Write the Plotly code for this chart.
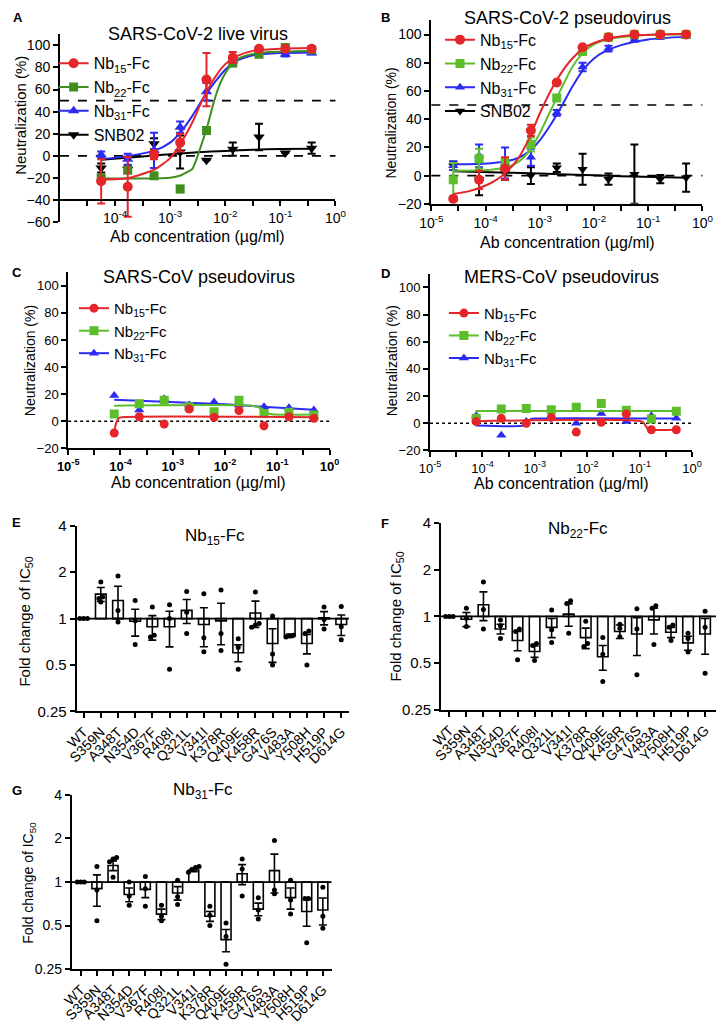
import numpy as np
import plotly.graph_objects as go

FONT = "Liberation Sans, Arial, sans-serif"
RED = "#E4252A"
GREEN_A = "#3F8E1F"
GREEN = "#5DBE2C"
BLUE = "#2B2BF4"
BLACK = "#000000"

W, H = 727, 1024

# --- A: SARS-CoV-2 live virus (mean, error) ---
a_conc = [5.6e-5, 1.7e-4, 5.1e-4, 1.52e-3, 4.57e-3, 1.37e-2, 4.1e-2, 0.123, 0.37]
a_nb15 = [-23, -28, 1, 12, 69, 89, 97, 97, 97]
a_nb15_err = [20, 27, 4, 8, 24, 5, 1, 1, 1]
a_nb22 = [-20, -13, -18, -30, 23, 84, 92, 98, 96]
a_nb22_err = [3, 2, 1, 3, 2, 3, 1, 1, 1]
a_nb31 = [1, -3, 5, 26, 58, 86, 94, 92, 93]
a_nb31_err = [3, 5, 16, 5, 8, 4, 2, 2, 1]
a_snb = [-11, -12, 11, 3.5, -4, 6, 17, 2.5, 7]
a_snb_err = [4, 3, 5, 15, 0, 6, 12, 0, 5]

# fitted curves (log10 conc, %)
a_fit15_lx = [-4.25, -3.75, -3.27, -3.0, -2.8, -2.6, -2.4, -2.2, -2.0, -1.8, -1.5, -1.0, -0.43]
a_fit15_y = [-21.5, -20, -12, -2, 12, 30, 52, 70, 83, 90, 95, 97, 97.5]
a_fit22_lx = [-4.25, -3.5, -3.0, -2.8, -2.7, -2.6, -2.5, -2.42, -2.34, -2.27, -2.2, -2.12, -2.03, -1.93, -1.82, -1.6, -1.2, -0.43]
a_fit22_y = [-20.5, -20.5, -19.8, -17.5, -15, -12, 0, 12, 24, 37, 50, 62, 72, 80, 86, 91, 94, 95]
a_fit31_lx = [-4.25, -3.75, -3.27, -3.0, -2.8, -2.6, -2.4, -2.2, -2.0, -1.8, -1.5, -1.0, -0.43]
a_fit31_y = [-3, 0, 5, 12, 22, 36, 52, 66, 78, 86, 91, 93, 93.5]
a_fitsnb_lx = [-4.25, -3.5, -3.0, -2.5, -2.0, -1.5, -1.0, -0.43]
a_fitsnb_y = [-3.5, -0.5, 1.5, 3.2, 4.5, 5.5, 6.2, 6.5]

# --- B: SARS-CoV-2 pseudovirus ---
b_conc = [2.54e-5, 7.6e-5, 2.29e-4, 6.86e-4, 2.06e-3, 6.17e-3, 1.85e-2, 5.56e-2, 0.167, 0.5]
b_nb15 = [-16.5, -3, 5, 32, 66, 91, 98, 100, 100, 100]
b_nb15_err = [1, 6.5, 8, 4, 1, 1, 1, 0.5, 0.5, 0.5]
b_nb22 = [-3, 12, 9, 22, 55, 88, 98, 100, 100, 100]
b_nb22_err = [12, 7, 3, 5, 2, 2, 1, 0.5, 0.5, 0.5]
b_nb31 = [7, 14, 9, 13, 44.5, 77, 90, 96, 98, 98.5]
b_nb31_err = [3, 8, 11, 6, 2, 3, 2, 1, 1, 1]
b_snb = [7, -2.5, 2, 0, 5.5, 4.5, -2.5, 1, -2.5, -1.5]
b_snb_err = [3, 11.5, 5, 6, 3, 11, 4, 21, 3, 10]

b_fit15_lx = [-4.6, -4.3, -4.0, -3.8, -3.6, -3.4, -3.2, -3.0, -2.8, -2.6, -2.4, -2.2, -2.0, -1.7, -1.3, -0.8, -0.28]
b_fit15_y = [-13, -11, -7, -3, 3, 12, 26, 44, 60, 73, 83, 90, 94, 97.5, 99.5, 100, 100.5]
b_fit22_lx = [-4.6, -4.2, -3.9, -3.64, -3.4, -3.2, -3.0, -2.8, -2.6, -2.4, -2.2, -2.0, -1.7, -1.3, -0.8, -0.28]
b_fit22_y = [3.5, 3.6, 4.2, 5.5, 9.5, 17, 30, 46, 62, 77, 87, 93, 97, 99, 100, 100]
b_fit31_lx = [-4.6, -4.2, -3.9, -3.64, -3.4, -3.2, -3.0, -2.8, -2.6, -2.4, -2.2, -2.0, -1.8, -1.5, -1.0, -0.28]
b_fit31_y = [8, 8.2, 8.8, 10, 12.5, 17, 25, 36, 49, 63, 75, 83, 88, 92.5, 96.5, 98.5]
b_fitsnb_lx = [-4.6, -3.5, -2.5, -1.5, -0.28]
b_fitsnb_y = [3, 2, 0.8, -0.4, -1.5]

# --- C: SARS-CoV pseudovirus ---
c_conc = [7.6e-5, 2.29e-4, 6.86e-4, 2.06e-3, 6.17e-3, 1.85e-2, 5.56e-2, 0.167, 0.5]
c_nb15 = [-8.6, 3.4, -2, 9, 3, 8, -3.3, 3.4, 2.2]
c_nb22 = [5.4, 13, 15.5, 10.7, 7, 15.5, 5.8, 6.6, 4.6]
c_nb31 = [19, 8.3, 16.7, 12, 14.3, 12, 10.7, 10, 8.3]
c_fit15_lx = [-4.12, -4.10, -4.07, -4.03, -3.98, -0.31]
c_fit15_y = [-8.6, -4, 0, 2.3, 3, 3]
c_fit22_lx = [-4.12, -1.45, -1.3, -1.2, -1.1, -0.31]
c_fit22_y = [11.5, 11.3, 9.5, 6.5, 5.2, 5]
c_fit31_lx = [-4.12, -2.0, -0.31]
c_fit31_y = [16, 12.5, 8.5]

# --- D: MERS-CoV pseudovirus ---
d_conc = [7.6e-5, 2.29e-4, 6.86e-4, 2.06e-3, 6.17e-3, 1.85e-2, 5.56e-2, 0.167, 0.5]
d_nb15 = [1.2, 3.6, 0, 4.3, -6.5, 0.7, 6.7, -4.8, -4.8]
d_nb22 = [3.6, 10.4, 10.8, 10, 11.8, 14.5, 9.6, 3.1, 8.9]
d_nb31 = [5.5, -8.9, 1.2, 3.6, 0, 7.2, 1.2, 5.5, 3.6]
d_fit15_lx = [-4.13, -0.95, -0.9, -0.85, -0.8, -0.31]
d_fit15_y = [1.5, 1.2, -1, -4, -4.8, -4.8]
d_fit22_lx = [-4.13, -0.31]
d_fit22_y = [9, 9]
d_fit31_lx = [-4.13, -3.2, -3.13, -3.07, -3.0, -0.31]
d_fit31_y = [-1.6, -1.6, 1, 3.2, 3.5, 3.5]

# --- E/F/G: fold change of IC50 ---
mutants = ["WT", "S359N", "A348T", "N354D", "V367F", "R408I", "Q321L", "V341I",
           "K378R", "Q409E", "K458R", "G476S", "V483A", "Y508H", "H519P", "D614G"]

e_mean = [1, 1.44, 1.31, 0.96, 0.885, 0.885, 1.13, 0.916, 0.966, 0.60, 1.087, 0.69, 0.775, 0.69, 1.01, 0.916]
e_sem = [0, 0.15, 0.31, 0.19, 0.16, 0.23, 0.2, 0.26, 0.29, 0.075, 0.21, 0.17, 0.02, 0.1, 0.1, 0.14]
e_dots = [[1, 1, 1], [1.73, 1.38, 1.35, 1.28], [1.89, 1.13, 0.95], [1.31, 0.97, 0.68],
          [1.19, 0.78, 0.76], [1.23, 1.0, 0.47], [1.5, 1.1, 0.80], [1.45, 0.75, 0.61],
          [1.53, 0.80, 0.62], [0.74, 0.65, 0.47], [1.49, 0.93, 0.91, 0.88], [1.04, 0.59, 0.50],
          [0.78, 0.77, 0.76], [0.83, 0.80, 0.50], [1.19, 0.985, 0.855], [1.2, 0.885, 0.73]]

f_mean = [1, 0.96, 1.19, 0.83, 0.70, 0.594, 0.85, 1.035, 0.73, 0.55, 0.80, 0.77, 0.95, 0.79, 0.675, 0.77]
f_sem = [0, 0.1, 0.25, 0.06, 0.1, 0.05, 0.12, 0.17, 0.11, 0.1, 0.08, 0.21, 0.18, 0.06, 0.07, 0.2]
f_dots = [[1, 1, 1], [1.13, 0.975, 0.86], [1.67, 1.11, 0.83], [0.95, 0.87, 0.72],
          [0.83, 0.80, 0.525], [0.67, 0.65, 0.52], [1.1, 0.82, 0.68], [1.26, 1.21, 0.78],
          [0.93, 0.67, 0.64], [0.73, 0.57, 0.38], [0.89, 0.84, 0.74], [1.12, 0.83, 0.42],
          [1.17, 1.13, 0.66], [0.88, 0.85, 0.70], [0.78, 0.72, 0.59], [1.08, 0.85, 0.43]]

g_mean = [1, 0.90, 1.30, 0.82, 0.89, 0.60, 0.84, 1.21, 0.58, 0.40, 1.14, 0.65, 1.20, 0.78, 0.625, 0.64]
g_sem = [0, 0.22, 0.1, 0.09, 0.11, 0.05, 0.09, 0.03, 0.045, 0.07, 0.18, 0.065, 0.36, 0.13, 0.13, 0.135]
g_dots = [[1, 1, 1], [1.28, 0.88, 0.54], [1.48, 1.44, 1.38, 1.08], [1.0, 0.8, 0.69],
          [1.09, 0.9, 0.68], [0.69, 0.58, 0.54], [1.03, 0.79, 0.70], [1.28, 1.26, 1.22, 1.17],
          [0.68, 0.59, 0.50], [0.52, 0.42, 0.27], [1.44, 1.23, 0.80], [0.78, 0.64, 0.555],
          [1.94, 0.88, 0.83], [1.03, 0.75, 0.60], [0.77, 0.77, 0.38], [0.92, 0.58, 0.48]]


def pxx(px):
    return px / W


def pxy(py):
    return 1 - py / H


fig = go.Figure()
annotations = []
shapes = []


def ann(text, px, py, size, angle=0, bold=False, xanchor="center"):
    if bold:
        text = "<b>" + text + "</b>"
    annotations.append(dict(text=text, x=pxx(px), y=pxy(py), xref="paper", yref="paper",
                            showarrow=False, textangle=angle, xanchor=xanchor, yanchor="middle",
                            font=dict(family=FONT, size=size, color="black")))


def axis(size=14, **kw):
    d = dict(showline=True, linecolor="black", linewidth=1.8, ticks="outside", tickwidth=1.5,
             ticklen=5, tickcolor="black", showgrid=False, zeroline=False,
             tickfont=dict(family=FONT, size=size, color="black"))
    d.update(kw)
    return d


def log_axis(first=-5, bold=False, size=14, **kw):
    vals = [10.0 ** k for k in range(first, 1)]
    text = ["10<sup>%d</sup>" % k for k in range(first, 1)]
    if bold:
        text = ["<b>" + t + "</b>" for t in text]
    minor = dict(tickmode="array", tickvals=[10 ** (k + 0.5) for k in range(-5, 0)],
                 ticks="outside", ticklen=5, tickwidth=1.5, tickcolor="black", showgrid=False)
    return axis(size=size, type="log", range=[-5, 0], tickmode="array", tickvals=vals,
                ticktext=text, minor=minor, **kw)


def curve_series(n, conc, y, err, lx, fy, color, symbol, size, legend, name, rank, lw=2):
    xa, ya = "x%d" % n, "y%d" % n
    fig.add_trace(go.Scatter(x=[10 ** v for v in lx], y=fy, mode="lines",
                             line=dict(color=color, width=lw, shape="spline", smoothing=0.6),
                             xaxis=xa, yaxis=ya, showlegend=False, hoverinfo="skip"))
    ey = None
    if err is not None:
        ey = dict(type="data", array=err, color=color, thickness=2, width=4)
    fig.add_trace(go.Scatter(x=conc, y=y, mode="markers", error_y=ey,
                             marker=dict(color=color, symbol=symbol, size=size),
                             xaxis=xa, yaxis=ya, showlegend=False))
    fig.add_trace(go.Scatter(x=[None], y=[None], mode="lines+markers", name=name,
                             line=dict(color=color, width=lw), marker=dict(color=color, symbol=symbol, size=size),
                             xaxis=xa, yaxis=ya, legend=legend, legendgroup=legend + name, legendrank=rank))


# ---------- panel A ----------
curve_series(1, a_conc, a_snb, a_snb_err, a_fitsnb_lx, a_fitsnb_y, BLACK, "triangle-down", 10, "legend", "SNB02", 4)
curve_series(1, a_conc, a_nb31, a_nb31_err, a_fit31_lx, a_fit31_y, BLUE, "triangle-up", 10, "legend", "Nb<sub>31</sub>-Fc", 3)
curve_series(1, a_conc, a_nb22, a_nb22_err, a_fit22_lx, a_fit22_y, GREEN_A, "square", 9, "legend", "Nb<sub>22</sub>-Fc", 2)
curve_series(1, a_conc, a_nb15, a_nb15_err, a_fit15_lx, a_fit15_y, RED, "circle", 10, "legend", "Nb<sub>15</sub>-Fc", 1)

# ---------- panel B ----------
curve_series(2, b_conc, b_snb, b_snb_err, b_fitsnb_lx, b_fitsnb_y, BLACK, "triangle-down", 9, "legend2", "SNB02", 4)
curve_series(2, b_conc, b_nb31, b_nb31_err, b_fit31_lx, b_fit31_y, BLUE, "triangle-up", 9, "legend2", "Nb<sub>31</sub>-Fc", 3)
curve_series(2, b_conc, b_nb22, b_nb22_err, b_fit22_lx, b_fit22_y, GREEN, "square", 9, "legend2", "Nb<sub>22</sub>-Fc", 2)
curve_series(2, b_conc, b_nb15, b_nb15_err, b_fit15_lx, b_fit15_y, RED, "circle", 10, "legend2", "Nb<sub>15</sub>-Fc", 1)

# ---------- panels C, D ----------
for n, conc, s15, s22, s31, f15, f22, f31, leg in [
        (3, c_conc, c_nb15, c_nb22, c_nb31, (c_fit15_lx, c_fit15_y), (c_fit22_lx, c_fit22_y), (c_fit31_lx, c_fit31_y), "legend3"),
        (4, d_conc, d_nb15, d_nb22, d_nb31, (d_fit15_lx, d_fit15_y), (d_fit22_lx, d_fit22_y), (d_fit31_lx, d_fit31_y), "legend4")]:
    curve_series(n, conc, s31, None, f31[0], f31[1], BLUE, "triangle-up", 9, leg, "Nb<sub>31</sub>-Fc", 3)
    curve_series(n, conc, s22, None, f22[0], f22[1], GREEN, "square", 9, leg, "Nb<sub>22</sub>-Fc", 2)
    curve_series(n, conc, s15, None, f15[0], f15[1], RED, "circle", 9, leg, "Nb<sub>15</sub>-Fc", 1)


def jitter(vals, step=0.22, tol=0.07):
    lv = np.log2(vals)
    order = np.argsort(lv)
    offs = np.zeros(len(vals))
    groups, cur = [], [order[0]]
    for i in order[1:]:
        if lv[i] - lv[cur[-1]] < tol:
            cur.append(i)
        else:
            groups.append(cur)
            cur = [i]
    groups.append(cur)
    for g in groups:
        for j, i in enumerate(g):
            offs[i] = (j - (len(g) - 1) / 2) * step
    return offs


def bar_panel(n, means, sems, dots):
    xa, ya = "x%d" % n, "y%d" % n
    m = np.array(means, dtype=float)
    s = np.array(sems, dtype=float)
    up = np.log2(m + s) - np.log2(m)
    dn = np.log2(m) - np.log2(m - s)
    fig.add_trace(go.Bar(x=list(range(len(mutants))), y=np.log2(m), width=0.62,
                         marker=dict(color="white", line=dict(color="black", width=1.6)),
                         error_y=dict(type="data", symmetric=False, array=up, arrayminus=dn,
                                      color="black", thickness=1.6, width=4),
                         xaxis=xa, yaxis=ya, showlegend=False))
    dx, dy = [], []
    for i, d in enumerate(dots):
        for v, o in zip(d, jitter(d)):
            dx.append(i + o)
            dy.append(np.log2(v))
    fig.add_trace(go.Scatter(x=dx, y=dy, mode="markers", marker=dict(color="black", size=5),
                             xaxis=xa, yaxis=ya, showlegend=False))
    shapes.append(dict(type="line", xref="%s domain" % xa, yref=ya, x0=0, x1=1, y0=0, y1=0,
                       line=dict(color="black", width=1.8), layer="above"))


bar_panel(5, e_mean, e_sem, e_dots)
bar_panel(6, f_mean, f_sem, f_dots)
bar_panel(7, g_mean, g_sem, g_dots)

# ---------- axes ----------
fig.update_layout(
    xaxis=log_axis(first=-4, domain=[pxx(49.5), pxx(334)], anchor="free", position=pxy(194.5)),
    yaxis=axis(domain=[pxy(217), pxy(25.75)], range=[-60, 110], tickvals=list(range(-60, 101, 20)), anchor="x"),
    xaxis2=log_axis(domain=[pxx(433), pxx(713)], anchor="y2"),
    yaxis2=axis(domain=[pxy(198.3), pxy(11.6)], range=[-20, 110], tickvals=list(range(-20, 101, 20)), anchor="x2"),
    xaxis3=log_axis(bold=True, size=13, domain=[pxx(58), pxx(328)], anchor="y3"),
    yaxis3=axis(size=13, domain=[pxy(447.3), pxy(267.9)], range=[-20, 110], tickvals=list(range(-20, 101, 20)), anchor="x3"),
    xaxis4=log_axis(size=13, domain=[pxx(431.7), pxx(702.3)], anchor="y4"),
    yaxis4=axis(size=13, domain=[pxy(449.3), pxy(269.5)], range=[-20, 110], tickvals=list(range(-20, 101, 20)), anchor="x4"),
)
ylog2 = dict(range=[-2, 2], tickvals=[-2, -1, 0, 1, 2], ticktext=["0.25", "0.5", "1", "2", "4"])
xcat = dict(tickvals=list(range(len(mutants))), ticktext=mutants, tickangle=-45)
fig.update_layout(
    xaxis5=axis(domain=[pxx(66.7), pxx(348)], range=[-0.41, 15.45], anchor="y5", **xcat),
    yaxis5=axis(size=15, domain=[pxy(715), pxy(526)], anchor="x5", **ylog2),
    xaxis6=axis(domain=[pxx(443), pxx(727)], range=[-0.49, 15.64], anchor="y6", **xcat),
    yaxis6=axis(size=15, domain=[pxy(713.3), pxy(523.3)], anchor="x6", **ylog2),
    xaxis7=axis(domain=[pxx(61.7), pxx(330)], range=[-0.56, 15.54], anchor="y7", **xcat),
    yaxis7=axis(size=14, domain=[pxy(977.3), pxy(800)], anchor="x7", **ylog2),
)

# reference lines
for xa, ya, yv, dash in [("x", "y", 50, "dash"), ("x", "y", 0, "dash"),
                         ("x2", "y2", 50, "dash"), ("x2", "y2", 0, "dash"),
                         ("x3", "y3", 0, "dot"), ("x4", "y4", 0, "dot")]:
    shapes.append(dict(type="line", xref="%s domain" % xa, yref=ya, x0=0, x1=1, y0=yv, y1=yv,
                       line=dict(color="black", width=1.6, dash=dash), layer="below"))

# ---------- text ----------
ann("A", 6, 9, 13, bold=True)
ann("B", 386, 9, 13, bold=True)
ann("C", 5, 268, 13, bold=True)
ann("D", 386, 269, 13, bold=True)
ann("E", 5, 523, 13, bold=True)
ann("F", 385, 524, 13, bold=True)
ann("G", 5, 795, 13, bold=True)

ann("SARS-CoV-2 live virus", 192, 25, 18)
ann("SARS-CoV-2 pseudovirus", 574, 9, 18)
ann("SARS-CoV pseudovirus", 193, 273, 18)
ann("MERS-CoV pseudovirus", 567, 273, 18)
ann("Nb<sub>15</sub>-Fc", 210, 537, 17)
ann("Nb<sub>22</sub>-Fc", 584, 530, 17)
ann("Nb<sub>31</sub>-Fc", 197, 796, 17)

ann("Neutralization (%)", 8, 108, 15, angle=-90)
ann("Neutralization (%)", 391, 116, 14, angle=-90)
ann("Neutralization (%)", 18, 358, 14, angle=-90)
ann("Neutralization (%)", 392, 358, 14, angle=-90)
ann("Ab concentration (\u00b5g/ml)", 192, 232, 16)
ann("Ab concentration (\u00b5g/ml)", 574, 238, 16)
ann("Ab concentration (\u00b5g/ml)", 193, 482, 16)
ann("Ab concentration (\u00b5g/ml)", 567, 483, 16)
ann("Fold change of IC<sub>50</sub>", 13, 624, 15, angle=-90)
ann("Fold change of IC<sub>50</sub>", 397, 618, 15, angle=-90)
ann("Fold change of IC<sub>50</sub>", 18, 889, 14, angle=-90)

leg = dict(bgcolor="rgba(0,0,0,0)", xanchor="left", yanchor="top", tracegroupgap=3,
           traceorder="normal", itemclick=False)
fig.update_layout(
    legend=dict(leg, x=pxx(43), y=pxy(38), font=dict(family=FONT, size=16)),
    legend2=dict(leg, x=pxx(442), y=pxy(14), font=dict(family=FONT, size=16)),
    legend3=dict(leg, x=pxx(64), y=pxy(288), font=dict(family=FONT, size=15)),
    legend4=dict(leg, x=pxx(446), y=pxy(293), font=dict(family=FONT, size=15)),
)

fig.update_layout(width=W, height=H, margin=dict(l=0, r=0, t=0, b=0),
                  paper_bgcolor="white", plot_bgcolor="white",
                  font=dict(family=FONT, color="black"),
                  annotations=annotations, shapes=shapes)

# drop the browser's default 8px body margin so the figure sits at the page corner
fig.write_html("out.html", config={"displayModeBar": False},
               post_script="document.body.style.margin='0px';")
